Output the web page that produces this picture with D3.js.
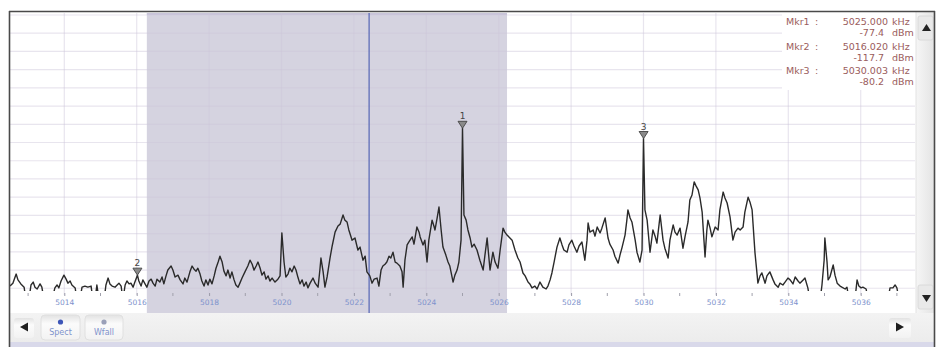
<!DOCTYPE html>
<html>
<head>
<meta charset="utf-8">
<script src="https://cdn.jsdelivr.net/npm/d3@7"></script>
<style>
  html, body { margin: 0; padding: 0; background: #ffffff; }
  svg { display: block; }
</style>
</head>
<body>
<svg id="chart" width="944" height="347"></svg>
<script>
// ---- Sweep settings ----
const sweepKHz = [5012.5, 5037.5];          // start / stop frequency
const levelDbm = [-122.6, -46.3];           // bottom / top of the display
const dbPerDiv = 5;
const gridDivisions = 16;

// ---- Frequency axis ----
const axisTickKHz = [5014, 5016, 5018, 5020, 5022, 5024, 5026, 5028, 5030, 5032, 5034, 5036];
const axisTickLabels = ["5014", "5016", "5018", "5020", "5022", "5024", "5026", "5028", "5030", "5032", "5034", "5036"];
const minorTickKHz = [5013, 5015, 5017, 5019, 5021, 5023, 5025, 5027, 5029, 5031, 5033, 5035, 5037];

// ---- Highlighted band and cursor ----
const bandKHz = [5016.28, 5026.23];
const cursorKHz = 5022.42;

// ---- Markers ----
const markerIds = ["1", "2", "3"];
const markerKHz = [5025.000, 5016.020, 5030.003];
const markerDbm = [-77.4, -117.7, -80.2];
const markerKHzText = ["5025.000", "5016.020", "5030.003"];
const markerDbmText = ["-77.4", "-117.7", "-80.2"];

// ---- Trace: [frequency kHz, level dBm] ----
const tracePoints = [
  [5012.50,-120.7],[5012.58,-119.9],[5012.67,-117.4],[5012.72,-119.0],[5012.80,-120.1],[5012.89,-121.0],
  [5012.94,-124.5],[5013.02,-124.5],[5013.08,-120.4],[5013.14,-119.6],[5013.19,-121.0],[5013.25,-121.5],
  [5013.33,-120.1],[5013.38,-121.0],[5013.44,-124.5],[5013.66,-124.5],[5013.74,-121.2],[5013.80,-120.4],
  [5013.85,-121.2],[5013.91,-119.3],[5013.99,-117.7],[5014.05,-118.8],[5014.10,-119.9],[5014.16,-119.3],
  [5014.21,-120.4],[5014.30,-121.2],[5014.35,-124.5],[5014.43,-124.5],[5014.49,-121.0],[5014.57,-120.7],
  [5014.65,-121.0],[5014.74,-120.7],[5014.79,-124.5],[5014.85,-124.5],[5014.90,-120.4],[5014.96,-124.5],
  [5015.10,-124.5],[5015.15,-120.4],[5015.21,-118.5],[5015.26,-120.1],[5015.32,-120.7],[5015.40,-121.0],
  [5015.46,-120.4],[5015.51,-119.9],[5015.57,-120.7],[5015.62,-124.5],[5015.68,-120.4],[5015.73,-119.3],
  [5015.79,-120.1],[5015.84,-119.9],[5015.90,-121.0],[5015.95,-119.6],[5016.02,-117.7],[5016.06,-119.3],
  [5016.12,-120.7],[5016.17,-119.0],[5016.23,-120.1],[5016.28,-121.0],[5016.34,-119.3],[5016.40,-118.8],
  [5016.45,-119.9],[5016.51,-120.7],[5016.56,-118.8],[5016.64,-119.6],[5016.70,-118.2],[5016.75,-120.1],
  [5016.81,-117.9],[5016.86,-116.3],[5016.95,-115.2],[5017.00,-116.3],[5017.06,-118.2],[5017.14,-117.7],
  [5017.20,-119.0],[5017.28,-120.1],[5017.33,-118.5],[5017.39,-119.6],[5017.47,-116.8],[5017.53,-115.2],
  [5017.58,-116.0],[5017.64,-116.6],[5017.69,-115.8],[5017.75,-117.4],[5017.80,-119.3],[5017.86,-120.7],
  [5017.91,-119.0],[5017.97,-120.4],[5018.02,-118.8],[5018.08,-120.1],[5018.14,-117.9],[5018.19,-115.8],
  [5018.25,-114.1],[5018.30,-112.5],[5018.36,-114.1],[5018.41,-116.6],[5018.47,-117.9],[5018.52,-116.3],
  [5018.58,-118.5],[5018.63,-116.8],[5018.69,-119.0],[5018.74,-120.4],[5018.80,-121.0],[5018.85,-119.9],
  [5018.91,-118.5],[5018.99,-116.8],[5019.07,-115.2],[5019.13,-113.6],[5019.19,-114.7],[5019.24,-116.3],
  [5019.30,-115.2],[5019.35,-114.1],[5019.41,-115.8],[5019.46,-117.7],[5019.52,-116.8],[5019.57,-118.8],
  [5019.63,-117.9],[5019.68,-119.3],[5019.74,-118.5],[5019.82,-119.6],[5019.90,-118.8],[5019.96,-117.9],
  [5020.01,-106.1],[5020.07,-114.1],[5020.12,-118.2],[5020.18,-117.4],[5020.23,-115.8],[5020.29,-116.8],
  [5020.35,-115.2],[5020.40,-116.3],[5020.46,-118.5],[5020.51,-120.1],[5020.57,-119.0],[5020.62,-120.7],
  [5020.68,-119.6],[5020.73,-121.2],[5020.79,-119.9],[5020.87,-118.5],[5020.93,-119.9],[5021.01,-121.0],
  [5021.06,-116.3],[5021.09,-113.0],[5021.15,-116.8],[5021.20,-121.0],[5021.26,-118.2],[5021.34,-113.0],
  [5021.40,-109.7],[5021.48,-105.9],[5021.56,-104.2],[5021.62,-103.7],[5021.70,-101.2],[5021.75,-102.6],
  [5021.81,-103.1],[5021.86,-105.3],[5021.95,-108.1],[5022.03,-107.5],[5022.11,-110.8],[5022.17,-110.0],
  [5022.25,-113.6],[5022.31,-112.5],[5022.36,-116.8],[5022.44,-117.9],[5022.50,-119.9],[5022.56,-118.8],
  [5022.64,-118.5],[5022.69,-120.7],[5022.75,-116.3],[5022.80,-115.2],[5022.86,-114.7],[5022.91,-114.1],
  [5022.97,-112.5],[5023.02,-113.0],[5023.08,-111.4],[5023.14,-114.1],[5023.19,-114.4],[5023.27,-115.2],
  [5023.33,-116.8],[5023.36,-121.0],[5023.41,-113.6],[5023.47,-109.4],[5023.52,-108.6],[5023.61,-107.2],
  [5023.66,-109.2],[5023.74,-104.5],[5023.80,-105.9],[5023.83,-107.2],[5023.91,-109.4],[5023.96,-108.1],
  [5024.02,-114.1],[5024.07,-108.1],[5024.16,-102.6],[5024.21,-104.2],[5024.24,-105.3],[5024.30,-102.0],
  [5024.35,-99.0],[5024.41,-105.3],[5024.46,-110.0],[5024.54,-112.2],[5024.60,-114.1],[5024.65,-115.2],
  [5024.74,-119.6],[5024.79,-117.7],[5024.85,-116.3],[5024.90,-114.1],[5024.96,-108.1],[5025.00,-77.4],
  [5025.04,-101.2],[5025.10,-102.6],[5025.15,-105.3],[5025.21,-107.5],[5025.26,-110.0],[5025.32,-109.2],
  [5025.40,-110.8],[5025.48,-113.6],[5025.57,-116.3],[5025.62,-112.2],[5025.68,-107.5],[5025.76,-116.3],
  [5025.84,-111.4],[5025.90,-114.1],[5025.98,-115.8],[5026.04,-110.8],[5026.12,-104.8],[5026.17,-105.9],
  [5026.23,-106.7],[5026.31,-107.5],[5026.37,-108.1],[5026.45,-110.8],[5026.53,-113.0],[5026.59,-114.1],
  [5026.67,-117.1],[5026.73,-117.9],[5026.81,-119.6],[5026.86,-120.1],[5026.92,-121.2],[5027.00,-120.7],
  [5027.06,-121.5],[5027.14,-119.6],[5027.22,-121.0],[5027.31,-121.5],[5027.36,-120.7],[5027.42,-119.0],
  [5027.47,-117.1],[5027.53,-114.1],[5027.61,-110.0],[5027.69,-107.5],[5027.75,-109.4],[5027.80,-110.8],
  [5027.89,-111.4],[5027.94,-109.4],[5028.02,-108.1],[5028.08,-109.7],[5028.16,-111.4],[5028.22,-109.7],
  [5028.30,-108.6],[5028.38,-113.6],[5028.44,-108.1],[5028.47,-103.4],[5028.52,-105.9],[5028.61,-105.3],
  [5028.66,-107.0],[5028.72,-104.5],[5028.80,-106.1],[5028.85,-104.8],[5028.94,-102.0],[5029.02,-107.5],
  [5029.07,-109.2],[5029.16,-110.8],[5029.21,-112.5],[5029.30,-114.4],[5029.35,-112.2],[5029.41,-110.0],
  [5029.49,-106.7],[5029.54,-102.6],[5029.57,-99.8],[5029.63,-102.0],[5029.68,-103.1],[5029.77,-108.1],
  [5029.82,-111.4],[5029.90,-114.1],[5029.96,-110.8],[5030.00,-80.2],[5030.04,-99.8],[5030.10,-102.6],
  [5030.18,-111.4],[5030.26,-105.3],[5030.32,-107.0],[5030.37,-108.9],[5030.46,-101.2],[5030.54,-108.1],
  [5030.59,-110.3],[5030.68,-113.0],[5030.73,-108.1],[5030.82,-103.9],[5030.87,-105.9],[5030.93,-106.7],
  [5031.01,-104.8],[5031.09,-110.3],[5031.15,-107.0],[5031.23,-103.1],[5031.28,-97.1],[5031.34,-95.7],
  [5031.40,-92.1],[5031.45,-93.2],[5031.51,-94.3],[5031.56,-96.5],[5031.62,-100.4],[5031.67,-108.1],
  [5031.70,-112.7],[5031.75,-105.3],[5031.78,-102.6],[5031.84,-104.8],[5031.89,-107.2],[5031.98,-104.5],
  [5032.06,-105.3],[5032.11,-99.8],[5032.20,-94.9],[5032.25,-96.5],[5032.31,-97.9],[5032.39,-101.7],
  [5032.47,-108.1],[5032.53,-105.9],[5032.61,-104.8],[5032.67,-105.3],[5032.75,-104.5],[5032.80,-100.4],
  [5032.89,-96.3],[5032.94,-97.6],[5033.00,-99.8],[5033.08,-111.6],[5033.14,-117.7],[5033.16,-119.9],
  [5033.22,-117.9],[5033.27,-117.1],[5033.36,-119.9],[5033.41,-117.9],[5033.49,-116.8],[5033.58,-119.0],
  [5033.63,-120.1],[5033.72,-121.0],[5033.77,-119.9],[5033.85,-120.4],[5033.91,-119.6],[5033.99,-118.5],
  [5034.05,-119.0],[5034.13,-120.1],[5034.19,-118.2],[5034.27,-119.3],[5034.32,-119.9],[5034.41,-119.0],
  [5034.46,-118.5],[5034.54,-121.2],[5034.60,-124.5],[5034.88,-124.5],[5034.93,-120.4],[5034.99,-113.6],
  [5035.01,-107.5],[5035.07,-114.1],[5035.10,-119.0],[5035.15,-118.2],[5035.24,-114.9],[5035.29,-117.7],
  [5035.35,-119.9],[5035.43,-120.7],[5035.48,-121.0],[5035.57,-121.5],[5035.62,-121.0],[5035.68,-124.5],
  [5035.84,-124.5],[5035.90,-119.0],[5035.95,-120.7],[5036.01,-121.2],[5036.06,-121.0],[5036.15,-121.5],
  [5036.20,-124.5],[5036.75,-124.5],[5036.81,-121.2],[5036.89,-121.2],[5036.95,-120.4],[5037.00,-121.2],
  [5037.06,-124.5],[5037.50,-124.5]
];

// ---- Layout ----
const W = 944, H = 347;
const plot = { left: 10, right: 915, top: 13, traceBottom: 293, axisBottom: 313 };

const svg = d3.select("#chart");
const defs = svg.append("defs");

const x = d3.scaleLinear().domain(sweepKHz).range([plot.left, plot.right]);
const y = d3.scaleLinear().domain(levelDbm).range([plot.traceBottom, 15]);

// gradients for the window chrome
const vGrad = defs.append("linearGradient").attr("id", "vbar").attr("x1", 0).attr("x2", 1).attr("y1", 0).attr("y2", 0);
vGrad.append("stop").attr("offset", 0).attr("stop-color", "#f6f6f6");
vGrad.append("stop").attr("offset", 1).attr("stop-color", "#e4e4e4");
const hGrad = defs.append("linearGradient").attr("id", "hbar").attr("x1", 0).attr("x2", 0).attr("y1", 0).attr("y2", 1);
hGrad.append("stop").attr("offset", 0).attr("stop-color", "#f3f3f3");
hGrad.append("stop").attr("offset", 1).attr("stop-color", "#ececec");
const btnGrad = defs.append("linearGradient").attr("id", "btn").attr("x1", 0).attr("x2", 0).attr("y1", 0).attr("y2", 1);
btnGrad.append("stop").attr("offset", 0).attr("stop-color", "#e2e2e2");
btnGrad.append("stop").attr("offset", 0.35).attr("stop-color", "#fbfbfb");
btnGrad.append("stop").attr("offset", 1).attr("stop-color", "#f2f2f2");

defs.append("clipPath").attr("id", "traceClip")
  .append("rect").attr("x", plot.left).attr("y", plot.top)
  .attr("width", plot.right - plot.left).attr("height", 291 - plot.top);

// ---- Plot background ----
svg.append("rect").attr("x", 0).attr("y", 0).attr("width", W).attr("height", H).attr("fill", "#ffffff");

// highlighted band
svg.append("rect")
  .attr("x", x(bandKHz[0])).attr("y", plot.top)
  .attr("width", x(bandKHz[1]) - x(bandKHz[0]))
  .attr("height", plot.axisBottom - plot.top)
  .attr("fill", "#d5d3e0");
svg.append("line")
  .attr("x1", x(bandKHz[0])).attr("x2", x(bandKHz[1]))
  .attr("y1", plot.top + 1).attr("y2", plot.top + 1)
  .attr("stroke", "#c4c0d8").attr("stroke-width", 1.5);

// ---- Grid ----
const grid = svg.append("g").attr("stroke", "#cdc5da").attr("stroke-opacity", 0.45).attr("stroke-width", 1.2);
grid.selectAll("line.h")
  .data(d3.range(gridDivisions).map(k => levelDbm[1] - dbPerDiv * k))
  .join("line").attr("class", "h")
  .attr("x1", plot.left).attr("x2", plot.right)
  .attr("y1", d => y(d)).attr("y2", d => y(d));
grid.selectAll("line.v")
  .data(axisTickKHz)
  .join("line").attr("class", "v")
  .attr("x1", d => x(d)).attr("x2", d => x(d))
  .attr("y1", plot.top).attr("y2", plot.traceBottom + 2);

// ---- Frequency axis ----
const xAxis = d3.axisBottom(x).tickValues(axisTickKHz)
  .tickFormat((d, i) => axisTickLabels[i]).tickSize(3).tickPadding(4);
const axisG = svg.append("g").attr("transform", `translate(0,${plot.traceBottom})`).call(xAxis);
axisG.select(".domain").remove();
axisG.selectAll(".tick line").attr("stroke", "#9a9aa8");
axisG.selectAll(".tick text")
  .attr("fill", "#7d92cc").attr("font-family", "DejaVu Sans, sans-serif").attr("font-size", 7.5);
svg.append("g").selectAll("line")
  .data(minorTickKHz.filter(d => d > sweepKHz[0] && d < sweepKHz[1]))
  .join("line")
  .attr("x1", d => x(d)).attr("x2", d => x(d))
  .attr("y1", plot.traceBottom).attr("y2", plot.traceBottom + 3)
  .attr("stroke", "#a0a0ac");

// ---- Cursor ----
svg.append("line")
  .attr("x1", x(cursorKHz)).attr("x2", x(cursorKHz))
  .attr("y1", plot.top).attr("y2", plot.axisBottom)
  .attr("stroke", "#5565b5").attr("stroke-width", 1.2);

// ---- Trace ----
const line = d3.line().x(d => x(d[0])).y(d => y(d[1]));
svg.append("path")
  .datum(tracePoints)
  .attr("clip-path", "url(#traceClip)")
  .attr("d", line)
  .attr("fill", "none")
  .attr("stroke", "#2a2a2a")
  .attr("stroke-width", 1.4)
  .attr("stroke-linejoin", "round");

// ---- Markers on the trace ----
const mk = svg.append("g").selectAll("g")
  .data(markerIds.map((id, i) => ({ id, f: markerKHz[i], v: markerDbm[i] })))
  .join("g")
  .attr("transform", d => `translate(${x(d.f)},${y(d.v)})`);
mk.append("path")
  .attr("d", "M-4.5,-7 L4.5,-7 L0,0 Z")
  .attr("fill", "#8a8a8a").attr("stroke", "#444").attr("stroke-width", 0.9);
mk.append("text")
  .attr("y", -9).attr("text-anchor", "middle")
  .attr("font-family", "DejaVu Sans, sans-serif").attr("font-size", 9)
  .attr("fill", "#444").text(d => d.id);

// ---- Marker readout ----
svg.append("rect").attr("x", 782).attr("y", plot.top).attr("width", plot.right - 782).attr("height", 77)
  .attr("fill", "#ffffff");
const ro = svg.append("g").attr("font-family", "DejaVu Sans, sans-serif").attr("font-size", 9.5).attr("fill", "#9a5c5c");
markerIds.forEach((id, i) => {
  const y0 = 25 + i * 24.5;
  ro.append("text").attr("x", 786).attr("y", y0).text(`Mkr${id}`);
  ro.append("text").attr("x", 815).attr("y", y0).text(":");
  ro.append("text").attr("x", 888).attr("y", y0).attr("text-anchor", "end").text(markerKHzText[i]);
  ro.append("text").attr("x", 892).attr("y", y0).text("kHz");
  ro.append("text").attr("x", 884).attr("y", y0 + 11).attr("text-anchor", "end").text(markerDbmText[i]);
  ro.append("text").attr("x", 892).attr("y", y0 + 11).text("dBm");
});

// ---- Vertical scrollbar ----
svg.append("rect").attr("x", 916).attr("y", 12).attr("width", 18).attr("height", plot.axisBottom - 12).attr("fill", "url(#vbar)");
svg.append("line").attr("x1", 916).attr("x2", 916).attr("y1", 12).attr("y2", plot.axisBottom).attr("stroke", "#e2e2e2");
[[16, 24], [285, 24]].forEach(([y0, h]) => {
  svg.append("rect").attr("x", 918).attr("y", y0).attr("width", 15).attr("height", h).attr("rx", 2)
    .attr("fill", "#e9e9e9").attr("stroke", "#dadada");
});
svg.append("path").attr("d", "M922,31 L931,31 L926.5,24 Z").attr("fill", "#222");
svg.append("path").attr("d", "M922,295 L931,295 L926.5,302 Z").attr("fill", "#222");

// ---- Bottom bar with view buttons ----
svg.append("rect").attr("x", 10).attr("y", plot.axisBottom).attr("width", 924).attr("height", 29).attr("fill", "url(#hbar)");
svg.append("rect").attr("x", 10).attr("y", 342).attr("width", 924).attr("height", 5).attr("fill", "#d9d9ea");
svg.append("rect").attr("x", 14).attr("y", 318).attr("width", 20).attr("height", 20).attr("rx", 3).attr("fill", "url(#btn)");
svg.append("path").attr("d", "M20,327 L28,322.5 L28,331.5 Z").attr("fill", "#1e1e1e");
svg.append("rect").attr("x", 889).attr("y", 318).attr("width", 22).attr("height", 20).attr("rx", 3).attr("fill", "url(#btn)");
svg.append("path").attr("d", "M904,327 L896,322.5 L896,331.5 Z").attr("fill", "#1e1e1e");

const tabs = [{ label: "Spect", x0: 41, w: 39, icon: "#3d56b8" }, { label: "Wfall", x0: 85, w: 38, icon: "#9aa0b8" }];
tabs.forEach(t => {
  svg.append("rect").attr("x", t.x0).attr("y", 315).attr("width", t.w).attr("height", 25).attr("rx", 4)
    .attr("fill", "url(#btn)").attr("stroke", "#e0e0e0");
  svg.append("circle").attr("cx", t.x0 + t.w / 2).attr("cy", 322).attr("r", 2.6).attr("fill", t.icon);
  svg.append("text").attr("x", t.x0 + t.w / 2).attr("y", 335).attr("text-anchor", "middle")
    .attr("font-family", "DejaVu Sans, sans-serif").attr("font-size", 8).attr("fill", "#7f93cc").text(t.label);
});

// ---- Window frame ----
const frame = svg.append("g").attr("stroke", "#4a4a4a").attr("stroke-width", 1.6).attr("fill", "none");
frame.append("line").attr("x1", 9).attr("x2", 935).attr("y1", 11.5).attr("y2", 11.5);
frame.append("line").attr("x1", 9.5).attr("x2", 9.5).attr("y1", 11).attr("y2", H);
frame.append("line").attr("x1", 934.5).attr("x2", 934.5).attr("y1", 11).attr("y2", H);
</script>
</body>
</html>
